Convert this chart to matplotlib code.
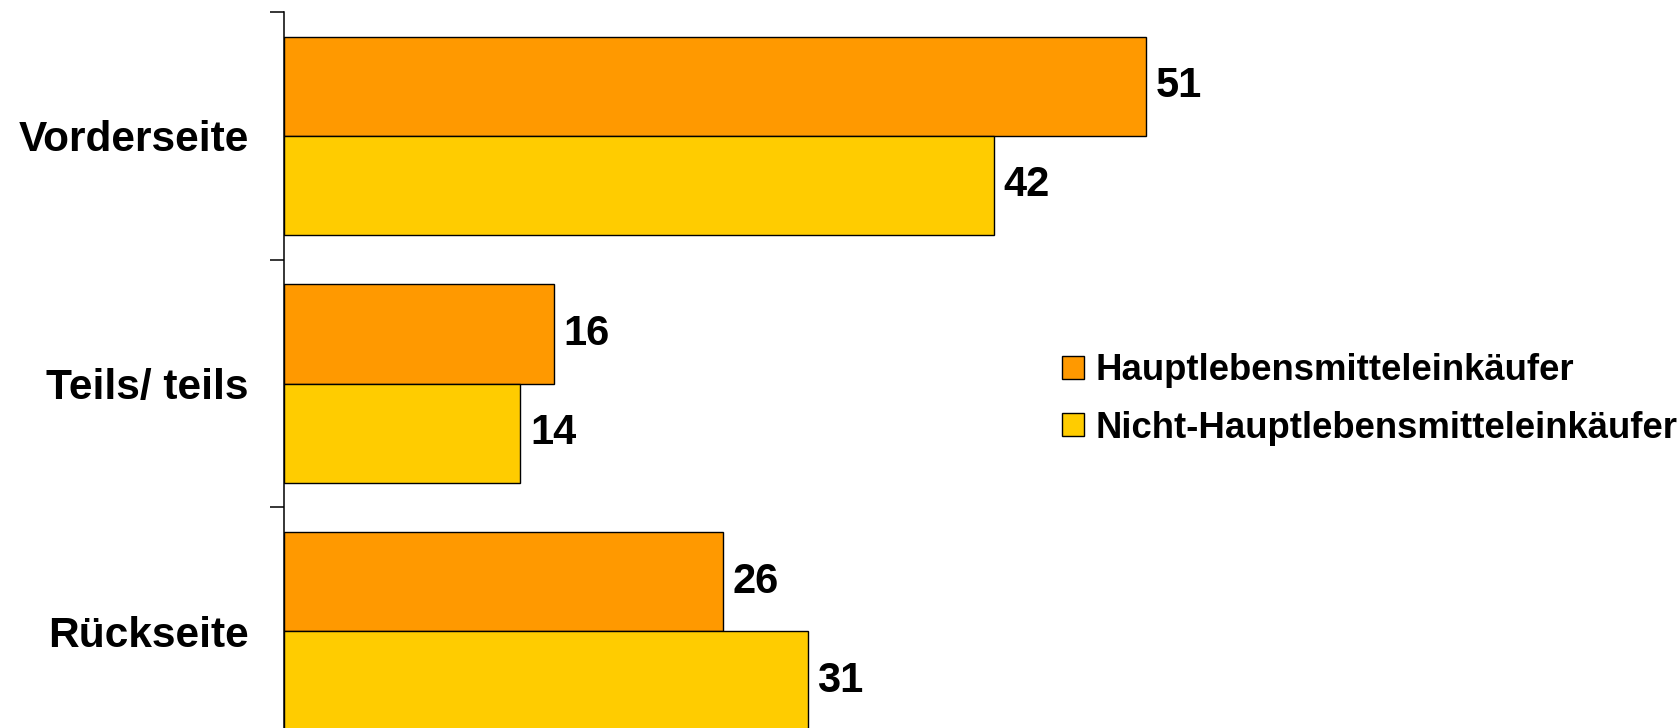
import numpy as np
import matplotlib.pyplot as plt

# Share of respondents by side of the package (in %)
categories = ['Vorderseite', 'Teils/ teils', 'Rückseite']
series_names = ['Hauptlebensmitteleinkäufer', 'Nicht-Hauptlebensmitteleinkäufer']
haupt = [51, 16, 26]
nicht_haupt = [42, 14, 31]

colors = ['#FF9900', '#FFCC00']
plt.rcParams['font.family'] = ['Liberation Sans', 'DejaVu Sans']
plt.rcParams['font.weight'] = 'bold'

fig = plt.figure(figsize=(16.78, 7.28), dpi=100)
# axes runs past the bottom edge, so the last group is cut off
ax = fig.add_axes([0.169, -0.0371, 0.8062, 1.0206])

y = np.arange(len(categories))
h = 0.4
bars1 = ax.barh(y - h / 2, haupt, height=h, color=colors[0],
                edgecolor='black', linewidth=1.0, label=series_names[0])
bars2 = ax.barh(y + h / 2, nicht_haupt, height=h, color=colors[1],
                edgecolor='black', linewidth=1.0, label=series_names[1])

for bars, vals in [(bars1, haupt), (bars2, nicht_haupt)]:
    for b, v in zip(bars, vals):
        ax.annotate(str(v), (v, b.get_y() + b.get_height() / 2),
                    xytext=(7, 0), textcoords='offset points',
                    va='center', ha='left', fontsize=30, fontweight='bold')

ax.set_xlim(0, 80)
ax.set_ylim(2.5, -0.5)

# category names at group centres, tick marks between groups
ax.set_yticks(y)
ax.set_yticklabels(categories, fontsize=30.5, fontweight='bold')
ax.tick_params(axis='y', which='major', length=0, pad=25)
ax.set_yticks(np.arange(-0.5, len(categories)), minor=True)
ax.tick_params(axis='y', which='minor', length=10, width=1.1, color='black')
ax.set_xticks([])

for s in ['top', 'right', 'bottom']:
    ax.spines[s].set_visible(False)
ax.spines['left'].set_linewidth(1.1)
ax.spines['left'].set_color('black')

fig.legend(loc='center left', bbox_to_anchor=(0.6329, 0.4515),
           frameon=False, prop={'weight': 'bold', 'size': 26.3},
           handlelength=0.6, handleheight=0.6, handletextpad=0.33,
           labelspacing=0.62, borderpad=0, borderaxespad=0)

fig.savefig('out.png', dpi=100)
